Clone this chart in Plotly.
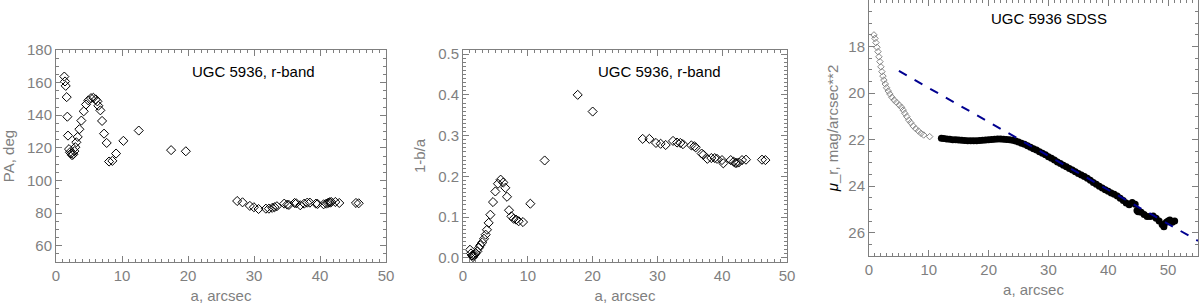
import plotly.graph_objects as go

# PA profile (left panel)
a_pa = [1.26, 1.37, 1.47, 1.62, 1.72, 1.82, 1.97, 2.12, 2.28, 2.43, 2.63, 2.78, 2.93, 3.08,
        3.29, 3.54, 3.84, 4.20, 4.55, 4.90, 5.31, 5.66, 6.02, 6.27, 6.42, 6.72, 6.98, 7.28,
        7.68, 8.04, 8.54, 9.10, 10.21, 12.54, 17.44, 19.67, 27.45, 28.26, 29.37, 29.98,
        30.69, 31.80, 32.26, 32.76, 33.11, 33.47, 34.58, 35.04, 35.29, 36.15, 36.40, 37.01,
        37.61, 38.07, 38.47, 39.38, 39.64, 40.55, 40.95, 41.20, 41.41, 41.56, 41.71, 42.32,
        42.92, 45.45, 45.86]
pa = [163.7, 160.7, 158.0, 151.1, 139.1, 127.5, 119.2, 117.3, 116.5, 115.5, 116.1, 118.0,
      120.4, 123.4, 126.7, 131.4, 136.7, 142.4, 146.6, 149.1, 150.5, 150.7, 149.7, 148.5,
      145.8, 143.0, 136.5, 128.7, 123.0, 111.6, 112.0, 116.5, 124.3, 130.6, 118.6, 117.9,
      87.4, 86.6, 84.4, 83.6, 82.5, 82.7, 82.7, 83.2, 83.6, 84.2, 85.8, 85.2, 85.0, 86.2,
      86.0, 84.8, 85.8, 86.4, 86.4, 85.8, 85.6, 85.4, 85.8, 86.2, 86.6, 86.4, 86.8, 86.8,
      86.2, 86.2, 86.0]

# ellipticity profile (middle panel)
a_ell = [1.08, 1.23, 1.39, 1.54, 1.65, 1.80, 1.95, 2.21, 2.47, 2.67, 2.98, 3.24, 3.50, 3.70,
         3.96, 4.22, 4.63, 4.99, 5.40, 5.81, 6.22, 6.53, 6.79, 7.10, 7.46, 7.82, 8.18, 8.59,
         9.26, 10.39, 12.60, 17.70, 20.01, 27.73, 28.76, 29.78, 30.50, 31.28, 32.41, 33.03,
         33.54, 33.95, 35.24, 35.70, 35.91, 36.83, 37.09, 37.71, 38.32, 38.84, 39.20, 39.97,
         40.17, 41.31, 41.77, 42.03, 42.28, 42.54, 43.06, 43.67, 46.14, 46.66]
ell = [0.020, 0.011, 0.006, 0.002, 0.006, 0.008, 0.012, 0.016, 0.025, 0.031, 0.038, 0.047,
       0.057, 0.069, 0.086, 0.106, 0.137, 0.163, 0.182, 0.192, 0.185, 0.172, 0.150, 0.117,
       0.102, 0.096, 0.094, 0.090, 0.088, 0.133, 0.239, 0.400, 0.359, 0.292, 0.292, 0.282,
       0.280, 0.277, 0.287, 0.283, 0.282, 0.279, 0.276, 0.274, 0.271, 0.256, 0.253, 0.243,
       0.245, 0.245, 0.243, 0.240, 0.232, 0.240, 0.236, 0.233, 0.233, 0.234, 0.240, 0.241,
       0.241, 0.240]

# surface brightness profile (right panel), inner part (open symbols)
a_in = [0.83, 1.00, 1.16, 1.33, 1.50, 1.66, 1.83, 1.99, 2.16, 2.33, 2.49, 2.72, 2.94, 3.21,
        3.49, 3.82, 4.21, 4.60, 5.04, 5.43, 5.71, 5.98, 6.32, 6.65, 6.98, 7.37, 7.81, 8.26,
        8.70, 9.14, 10.14]
mu_in = [17.50, 17.65, 17.83, 18.03, 18.22, 18.44, 18.65, 18.87, 19.08, 19.27, 19.44, 19.61,
         19.77, 19.91, 20.04, 20.18, 20.30, 20.40, 20.51, 20.61, 20.73, 20.87, 21.01, 21.16,
         21.27, 21.41, 21.53, 21.63, 21.73, 21.80, 21.87]

# outer part (filled symbols)
a_out = [12.1, 12.5, 13.0, 13.5, 14.0, 14.5, 15.0, 15.5, 16.0, 16.5, 17.0, 17.5, 18.0, 18.5,
         19.0, 19.5, 20.0, 20.5, 21.0, 21.5, 22.0, 22.5, 23.0, 23.5, 24.0, 24.5, 25.0, 25.5,
         26.0, 26.5, 27.0, 27.5, 28.0, 28.5, 29.0, 29.5, 30.0, 30.5, 31.0, 31.5, 32.0, 32.5,
         33.0, 33.5, 34.0, 34.5, 35.0, 35.5, 36.0, 36.5, 37.0, 37.5, 38.0, 38.5, 39.0, 39.5,
         40.0, 40.5, 41.0, 41.5, 42.0, 42.5, 43.0, 43.5, 44.0, 44.5, 44.8, 45.0, 45.5, 46.0,
         46.5, 47.0, 47.5, 48.0, 48.5, 49.0, 49.3, 49.7, 50.0, 50.3, 50.7, 51.1]
mu_out = [21.94, 21.95, 21.97, 21.98, 22.00, 22.01, 22.02, 22.03, 22.04, 22.05, 22.05, 22.05,
          22.05, 22.04, 22.03, 22.02, 22.00, 21.99, 21.98, 21.97, 21.97, 21.98, 21.99, 22.01,
          22.03, 22.06, 22.10, 22.15, 22.20, 22.26, 22.33, 22.39, 22.45, 22.52, 22.58, 22.65,
          22.73, 22.80, 22.88, 22.96, 23.03, 23.10, 23.16, 23.24, 23.30, 23.38, 23.45, 23.52,
          23.58, 23.66, 23.75, 23.84, 23.92, 24.00, 24.08, 24.15, 24.22, 24.29, 24.35, 24.42,
          24.52, 24.62, 24.72, 24.80, 24.70, 24.78, 25.05, 25.10, 25.12, 25.22, 25.30, 25.30,
          25.28, 25.38, 25.50, 25.65, 25.74, 25.55, 25.50, 25.45, 25.55, 25.50]

# exponential disk fit
a_fit = [5.0, 55.0]
mu_fit = [19.05, 26.35]

GRAY = '#7f7f7f'
FONT = 'Liberation Sans'

fig = go.Figure()

fig.add_trace(go.Scatter(x=a_pa, y=pa, mode='markers', xaxis='x', yaxis='y',
                         marker=dict(symbol='diamond-open', size=7, color='black', line=dict(width=1))))
fig.add_trace(go.Scatter(x=a_ell, y=ell, mode='markers', xaxis='x2', yaxis='y2',
                         marker=dict(symbol='diamond-open', size=7, color='black', line=dict(width=1))))
fig.add_trace(go.Scatter(x=a_in, y=mu_in, mode='markers', xaxis='x3', yaxis='y3',
                         marker=dict(symbol='diamond-open', size=5, color='#888888', line=dict(width=1))))
fig.add_trace(go.Scatter(x=a_out, y=mu_out, mode='markers', xaxis='x3', yaxis='y3',
                         marker=dict(symbol='circle', size=7, color='black')))
fig.add_trace(go.Scatter(x=a_fit, y=mu_fit, mode='lines', xaxis='x3', yaxis='y3',
                         line=dict(color='#000090', width=2, dash='dash')))


def ax(domain, rng, dtick, minor, anchor, title, standoff, fmt=None):
    d = dict(domain=domain, range=rng, dtick=dtick, anchor=anchor,
             showline=True, mirror='ticks', linecolor=GRAY, linewidth=1,
             ticks='inside', ticklen=6, tickcolor=GRAY, showgrid=False, zeroline=False,
             minor=dict(ticks='inside', dtick=minor, ticklen=3, tickcolor=GRAY, showgrid=False),
             tickfont=dict(family=FONT, size=15, color=GRAY),
             title=dict(text=title, font=dict(family=FONT, size=15, color=GRAY), standoff=standoff),
             automargin=False)
    if fmt:
        d['tickformat'] = fmt
    return d


y_dom = [43 / 305, 255 / 305]
fig.update_layout(
    width=1200, height=305,
    margin=dict(l=0, r=0, t=0, b=0),
    paper_bgcolor='white', plot_bgcolor='white',
    showlegend=False,
    xaxis=ax([56 / 1200, 386 / 1200], [0, 50], 10, 1, 'y', 'a, arcsec', 7),
    yaxis=ax(y_dom, [50, 180], 20, 5, 'x', 'PA, deg', 8),
    xaxis2=ax([463 / 1200, 787 / 1200], [0, 50], 10, 1, 'y2', 'a, arcsec', 7),
    yaxis2=ax(y_dom, [-0.01, 0.51], 0.1, 0.01, 'x2', '1-b/a', 8, '.1f'),
    xaxis3=ax([869 / 1200, 1198 / 1200], [0, 55], 10, 1, 'y3', 'a, arcsec', 7),
    yaxis3=ax([49 / 305, 1.0], [27, 16], 2, 0.5, 'x3',
              "<span style='color:black'><i>μ</i></span>_r, mag/arcsec**2", 6),
)

labels = [('x', 'y', 'UGC 5936, r-band', 0.60, 0.90),
          ('x2', 'y2', 'UGC 5936, r-band', 0.608, 0.90),
          ('x3', 'y3', 'UGC 5936 SDSS', 0.547, 0.926)]
for xr, yr, txt, px, py in labels:
    fig.add_annotation(text=txt, xref=xr + ' domain', yref=yr + ' domain', x=px, y=py,
                       xanchor='center', yanchor='middle', showarrow=False,
                       font=dict(family=FONT, size=15, color='black'))

# page body has an 8px default margin, drop it so the figure sits at the corner
fig.write_html('out.html', config={'displayModeBar': False},
               post_script="document.body.style.margin='0';")
